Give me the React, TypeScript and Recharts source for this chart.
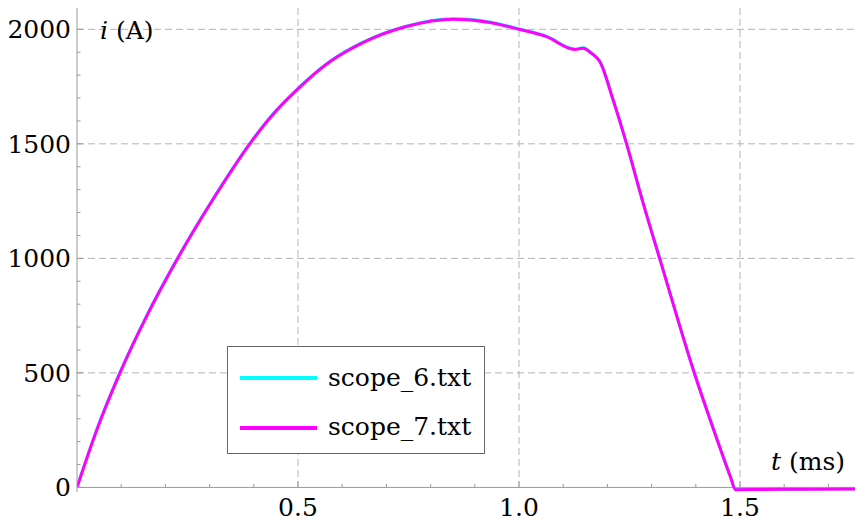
import { LineChart, Line, XAxis, YAxis, CartesianGrid, ReferenceLine, Legend } from "recharts"

// time axis (ms) and the two scope traces (A)
const T_MS = [
  0, 0.045, 0.097, 0.158, 0.227, 0.259, 0.315, 0.391, 0.436, 0.5,
  0.572, 0.647, 0.745, 0.851, 0.934, 1.0, 1.062, 1.126, 1.145, 1.164,
  1.183, 1.213, 1.243, 1.281, 1.322, 1.397, 1.447, 1.478, 1.49, 1.55, 1.65, 1.776,
]
const SCOPE_6 = [
  0, 254, 501, 751, 999, 1106, 1282, 1502, 1614, 1742,
  1860, 1944, 2014, 2046, 2032, 2002, 1970, 1914, 1919, 1897,
  1860, 1693, 1504, 1242, 977, 499, 217, 50, -8, -8, -7, -6,
]
const SCOPE_7 = [
  0, 252, 499, 749, 997, 1104, 1280, 1500, 1612, 1740,
  1858, 1942, 2012, 2044, 2030, 2000, 1968, 1912, 1917, 1895,
  1858, 1691, 1502, 1240, 975, 497, 215, 48, -10, -9, -8, -7,
]

const Y_TICKS = [0, 100, 200, 300, 400, 500, 600, 700, 800, 900, 1000, 1100, 1200, 1300, 1400, 1500, 1600, 1700, 1800, 1900, 2000]
const X_TICKS = [0.1, 0.2, 0.3, 0.4, 0.5, 0.6, 0.7, 0.8, 0.9, 1.0, 1.1, 1.2, 1.3, 1.4, 1.5, 1.6, 1.7]
const Y_GRID = [500, 1000, 1500, 2000]
const X_GRID = [0.5, 1.0, 1.5]

const TXT = { fontFamily: "'DejaVu Serif'", fontSize: 25, fill: "#000" }
const AXIS = "#999"
const Y_MIN = -20
const Y_MAX = 2093
const PLOT_H = 484
const ZERO_OFF = (-Y_MIN * PLOT_H) / (Y_MAX - Y_MIN)

const data = T_MS.map((t, i) => ({ t, s6: SCOPE_6[i], s7: SCOPE_7[i] }))

const isMajor = (v: number, step: number) => Math.abs(v / step - Math.round(v / step)) < 1e-6

function YTick({ x, y, payload }: any) {
  const v = payload.value
  const major = isMajor(v, 500)
  return (
    <g>
      <line x1={x + 6} x2={x + 6 + (major ? 6 : 3.5)} y1={y} y2={y} stroke={AXIS} />
      {major && (
        <text x={x} y={y} dy="0.36em" textAnchor="end" style={TXT}>
          {v}
        </text>
      )}
    </g>
  )
}

function XTick({ x, y, payload }: any) {
  const v = payload.value
  const major = isMajor(v, 0.5)
  const y0 = y - ZERO_OFF
  return (
    <g>
      <line x1={x} x2={x} y1={y0} y2={y0 - (major ? 6 : 3.5)} stroke={AXIS} />
      {major && (
        <text x={x} y={y + 24} textAnchor="middle" style={TXT}>
          {v.toFixed(1)}
        </text>
      )}
    </g>
  )
}

function LegendBox({ payload }: any) {
  const items = payload || []
  return (
    <svg width={258} height={108} style={{ display: "block" }}>
      <rect x={0.5} y={0.5} width={257} height={107} fill="#fff" stroke="#666" />
      {items.map((p: any, i: number) => (
        <g key={p.value}>
          <line x1={13} x2={90} y1={32 + i * 50} y2={32 + i * 50} stroke={p.color} strokeWidth={4} />
          <text x={101} y={40 + i * 49} style={TXT}>
            {p.value}
          </text>
        </g>
      ))}
    </svg>
  )
}

export default function App() {
  return (
    <div style={{ width: 855, height: 515 }}>
      <LineChart width={855} height={515} data={data} margin={{ top: 0, right: 1, left: 0, bottom: 0 }}>
        <CartesianGrid
          horizontalValues={Y_GRID}
          verticalValues={X_GRID}
          stroke="#b3b3b3"
          strokeDasharray="7 4"
        />
        <XAxis
          dataKey="t"
          type="number"
          domain={[0, 1.776]}
          ticks={X_TICKS}
          interval={0}
          allowDataOverflow
          axisLine={false}
          tickLine={false}
          tickSize={0}
          tickMargin={0}
          height={31}
          tick={<XTick />}
          label={{
            content: ({ viewBox }: any) => (
              <text x={viewBox.x + viewBox.width - 91} y={viewBox.y - 22} style={TXT}>
                <tspan fontStyle="italic">t</tspan>
                <tspan> (ms)</tspan>
              </text>
            ),
          }}
        />
        <YAxis
          type="number"
          domain={[Y_MIN, Y_MAX]}
          ticks={Y_TICKS}
          interval={0}
          allowDataOverflow
          width={69}
          axisLine={{ stroke: AXIS }}
          tickLine={false}
          tickSize={0}
          tickMargin={6}
          tick={<YTick />}
          label={{
            content: ({ viewBox }: any) => (
              <text x={viewBox.x + viewBox.width + 23} y={viewBox.y + 31} style={TXT}>
                <tspan fontStyle="italic">i</tspan>
                <tspan> (A)</tspan>
              </text>
            ),
          }}
        />
        <ReferenceLine y={0} stroke={AXIS} />
        <Legend
          layout="horizontal"
          verticalAlign="middle"
          align="center"
          wrapperStyle={{ position: "absolute", left: 219, top: 338, width: 258, height: 108 }}
          content={<LegendBox />}
        />
        <Line
          name="scope_6.txt"
          dataKey="s6"
          type="monotone"
          stroke="#00ffff"
          strokeWidth={3}
          dot={false}
          activeDot={false}
          isAnimationActive={false}
        />
        <Line
          name="scope_7.txt"
          dataKey="s7"
          type="monotone"
          stroke="#ff00ff"
          strokeWidth={3}
          dot={false}
          activeDot={false}
          isAnimationActive={false}
        />
      </LineChart>
    </div>
  )
}
